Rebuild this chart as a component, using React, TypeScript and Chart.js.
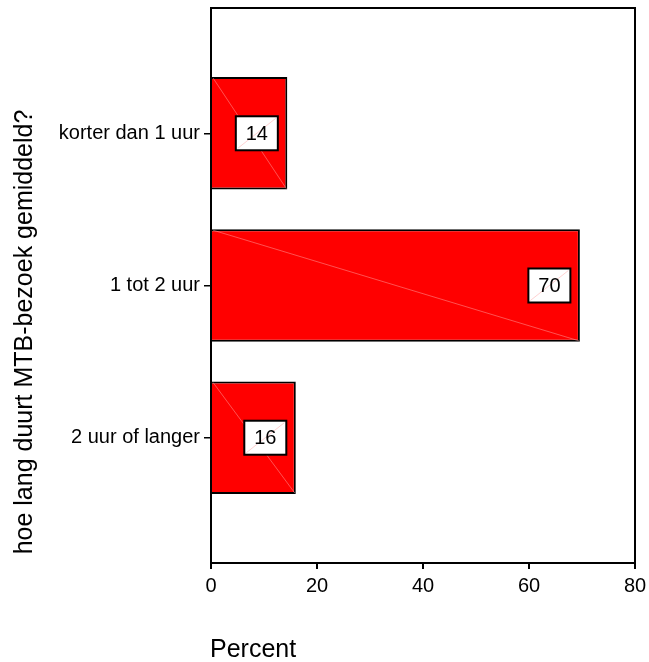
import React, { useEffect, useRef } from "react";
import { Chart, registerables } from "chart.js";

Chart.register(...registerables);

const categories: string[] = ["korter dan 1 uur", "1 tot 2 uur", "2 uur of langer"];
const percentValues: number[] = [14.4, 69.6, 16.0];
const valueLabels: string[] = ["14", "70", "16"];
const xTicks: number[] = [0, 20, 40, 60, 80];
const yTitle = "hoe lang duurt MTB-bezoek gemiddeld?";
const xTitle = "Percent";

const FONT = 'Arial, "Liberation Sans", Helvetica, sans-serif';

const decorPlugin = {
  id: "decor",
  afterDatasetsDraw(chart: any) {
    const ctx = chart.ctx;
    const meta = chart.getDatasetMeta(0);
    ctx.save();
    meta.data.forEach((bar: any, i: number) => {
      const p = bar.getProps(["x", "y", "base", "height"], true);
      const left = p.base;
      const right = p.x;
      const top = p.y - p.height / 2;
      const bottom = p.y + p.height / 2;
      ctx.strokeStyle = "rgba(255,170,170,0.8)";
      ctx.lineWidth = 0.6;
      ctx.beginPath();
      ctx.moveTo(left + 1, top + 1);
      ctx.lineTo(right - 1, bottom - 1);
      ctx.stroke();
      const bw = 42;
      const bh = 34;
      const bx = right - 9.5 - bw;
      const by = p.y - bh / 2;
      ctx.fillStyle = "#ffffff";
      ctx.fillRect(bx, by, bw, bh);
      ctx.strokeStyle = "rgba(255,170,170,0.9)";
      ctx.lineWidth = 0.6;
      ctx.beginPath();
      ctx.moveTo(bx + 2, by + bh - 2);
      ctx.lineTo(bx + bw - 2, by + 2);
      ctx.stroke();
      ctx.strokeStyle = "#000000";
      ctx.lineWidth = 2;
      ctx.strokeRect(bx, by, bw, bh);
      ctx.fillStyle = "#000000";
      ctx.font = "20px " + FONT;
      ctx.textAlign = "center";
      ctx.textBaseline = "middle";
      ctx.fillText(valueLabels[i], bx + bw / 2, p.y + 1);
    });
    ctx.restore();
  },
  afterDraw(chart: any) {
    const ctx = chart.ctx;
    const a = chart.chartArea;
    ctx.save();
    ctx.strokeStyle = "#000000";
    ctx.lineWidth = 2;
    ctx.strokeRect(a.left, a.top, a.right - a.left, a.bottom - a.top);
    ctx.fillStyle = "#000000";
    ctx.font = "25px " + FONT;
    ctx.save();
    ctx.translate(32, 332);
    ctx.rotate(-Math.PI / 2);
    ctx.textAlign = "center";
    ctx.textBaseline = "alphabetic";
    ctx.fillText(yTitle, 0, 0);
    ctx.restore();
    ctx.textAlign = "left";
    ctx.textBaseline = "alphabetic";
    ctx.fillText(xTitle, 210, 657);
    ctx.restore();
  },
};

export default function App() {
  const ref = useRef<HTMLCanvasElement | null>(null);
  useEffect(() => {
    document.body.style.margin = "0";
    if (!ref.current) return;
    const chart = new Chart(ref.current, {
      type: "bar",
      data: {
        datasets: [
          {
            data: percentValues.map((v, i) => ({ x: v, y: i + 1 })),
            backgroundColor: "#ff0000",
            borderColor: "#000000",
            borderWidth: 2,
            barPercentage: 0.74,
            categoryPercentage: 1,
          },
        ],
      },
      options: {
        indexAxis: "y",
        responsive: false,
        animation: false,
        devicePixelRatio: 1,
        layout: { padding: { top: 8, right: 14, left: 0, bottom: 0 } },
        plugins: { legend: { display: false }, tooltip: { enabled: false } },
        scales: {
          x: {
            type: "linear",
            position: "bottom",
            min: 0,
            max: 80,
            afterBuildTicks: (scale: any) => {
              scale.ticks = xTicks.map((v) => ({ value: v }));
            },
            afterFit: (scale: any) => {
              scale.height = 99;
              scale.paddingLeft = 0;
              scale.paddingRight = 0;
            },
            border: { display: true, color: "#000", width: 2 },
            grid: { drawOnChartArea: false, drawTicks: true, tickLength: 6, color: "#000", lineWidth: 2 },
            ticks: { color: "#000", font: { size: 20, family: FONT }, padding: 5, maxRotation: 0 },
          },
          y: {
            type: "linear",
            position: "left",
            reverse: true,
            offset: false,
            min: 0.177,
            max: 3.823,
            afterBuildTicks: (scale: any) => {
              scale.ticks = categories.map((_, i) => ({ value: i + 1 }));
            },
            afterFit: (scale: any) => {
              scale.width = 211;
              scale.paddingTop = 0;
              scale.paddingBottom = 0;
            },
            border: { display: true, color: "#000", width: 2 },
            grid: { offset: false, drawOnChartArea: false, drawTicks: true, tickLength: 7, color: "#000", lineWidth: 1.5 },
            ticks: {
              color: "#000",
              font: { size: 20, family: FONT },
              padding: 4,
              autoSkip: false,
              callback: (v: any) => categories[Math.round(Number(v)) - 1] ?? "",
            },
          },
        },
      },
      plugins: [decorPlugin],
    } as any);
    return () => chart.destroy();
  }, []);
  return <canvas ref={ref} width={649} height={662} style={{ display: "block" }} />;
}
